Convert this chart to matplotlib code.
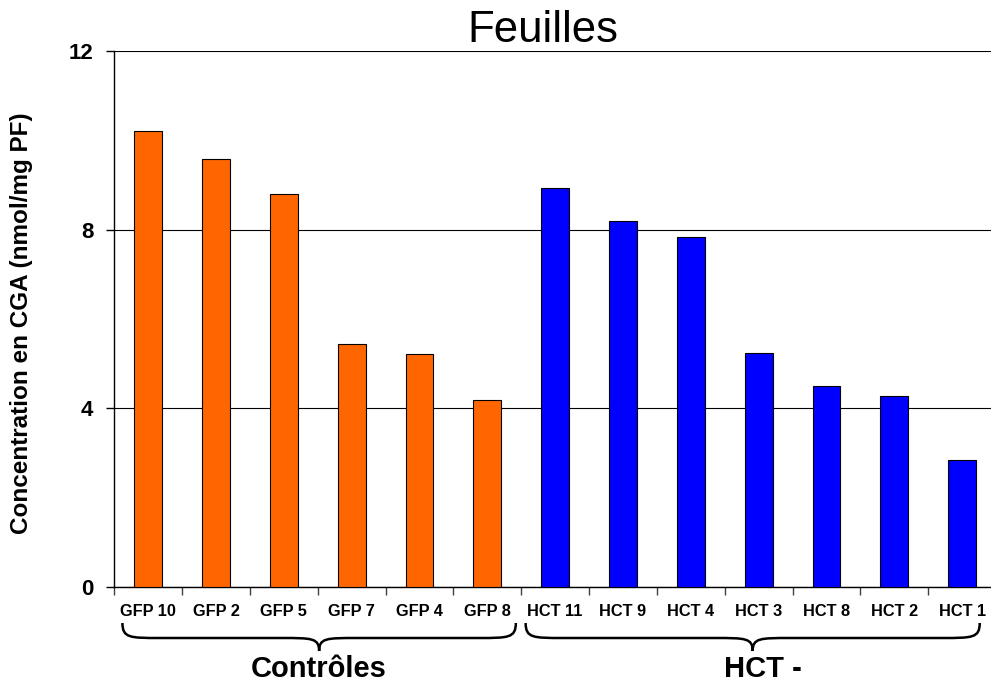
import numpy as np
import matplotlib
matplotlib.use("Agg")
import matplotlib.pyplot as plt
from matplotlib.path import Path
from matplotlib.patches import PathPatch
from matplotlib.transforms import blended_transform_factory

plt.rcParams['font.family'] = ['Liberation Sans', 'DejaVu Sans']

# data
gfp_labels = ['GFP 10', 'GFP 2', 'GFP 5', 'GFP 7', 'GFP 4', 'GFP 8']
gfp_values = [10.21, 9.58, 8.80, 5.44, 5.22, 4.19]
hct_labels = ['HCT 11', 'HCT 9', 'HCT 4', 'HCT 3', 'HCT 8', 'HCT 2', 'HCT 1']
hct_values = [8.93, 8.19, 7.84, 5.24, 4.50, 4.28, 2.84]
group_names = ['Contrôles', 'HCT -']
y_ticks = [0, 4, 8, 12]

labels = gfp_labels + hct_labels
values = gfp_values + hct_values
colors = ['#FF6600'] * len(gfp_values) + ['#0000FF'] * len(hct_values)
x = np.arange(len(labels))

fig = plt.figure(figsize=(9.91, 6.83), dpi=100)
W, H = 991, 683
ax = fig.add_axes([114.3 / W, 96 / H, (996 - 114.3) / W, 536 / H])

ax.bar(x, values, width=0.41, color=colors, edgecolor='black', linewidth=0.8, zorder=3)

ax.set_xlim(-0.5, len(labels) - 0.5)
ax.set_ylim(0, 12)
ax.set_yticks(y_ticks)
ax.set_yticklabels([str(t) for t in y_ticks], fontsize=16, fontweight='bold')
ax.tick_params(axis='y', length=6, width=1, pad=9, direction='out')
ax.yaxis.grid(True, color='black', linewidth=0.8, zorder=0)

ax.set_xticks(x)
ax.set_xticklabels(labels, fontsize=11.8, fontweight='bold')
ax.tick_params(axis='x', which='major', length=0, pad=12)
ax.set_xticks(np.arange(len(labels) + 1) - 0.5, minor=True)
ax.tick_params(axis='x', which='minor', length=6, width=1, direction='out', color='#404040')

for side in ['top', 'right']:
    ax.spines[side].set_visible(False)
ax.spines['left'].set_linewidth(1)
ax.spines['bottom'].set_linewidth(1)

fig.text(543 / W, 1 - 30 / H, 'Feuilles', fontsize=31.5, ha='center', va='center')
fig.text(22 / W, 1 - 323 / H, 'Concentration en CGA (nmol/mg PF)', rotation=90,
         fontsize=17.5, fontweight='bold', ha='center', va='center')

# curly braces under the groups
tr = blended_transform_factory(ax.transData, fig.transFigure)
y_top, y_mid, y_tip = 1 - 623 / H, 1 - 638 / H, 1 - 651 / H


def brace(x0, x1, c=0.55):
    xm = (x0 + x1) / 2
    verts = [(x0, y_top), (x0, y_mid), (x0 + 0.2 * c, y_mid), (x0 + c, y_mid),
             (xm - c, y_mid),
             (xm - 0.2 * c, y_mid), (xm, y_mid), (xm, y_tip),
             (xm, y_mid), (xm + 0.2 * c, y_mid), (xm + c, y_mid),
             (x1 - c, y_mid),
             (x1 - 0.2 * c, y_mid), (x1, y_mid), (x1, y_top)]
    codes = [Path.MOVETO, Path.CURVE4, Path.CURVE4, Path.CURVE4,
             Path.LINETO,
             Path.CURVE4, Path.CURVE4, Path.CURVE4,
             Path.CURVE4, Path.CURVE4, Path.CURVE4,
             Path.LINETO,
             Path.CURVE4, Path.CURVE4, Path.CURVE4]
    p = PathPatch(Path(verts, codes), transform=tr, fill=False, lw=1.8,
                  edgecolor='black', clip_on=False)
    fig.add_artist(p)
    return xm


n1 = len(gfp_labels)
spans = [(-0.38, n1 - 1 + 0.42), (n1 - 0.435, len(labels) - 1 + 0.26)]
label_shift = [0.0, 0.15]  # the "HCT -" text sits a bit right of its brace tip
for name, (a, b), dx in zip(group_names, spans, label_shift):
    xm = brace(a, b)
    ax.text(xm + dx, 1 - 669 / H, name, transform=tr, fontsize=21, fontweight='bold',
            ha='center', va='center')

fig.savefig('out.png', dpi=100)
